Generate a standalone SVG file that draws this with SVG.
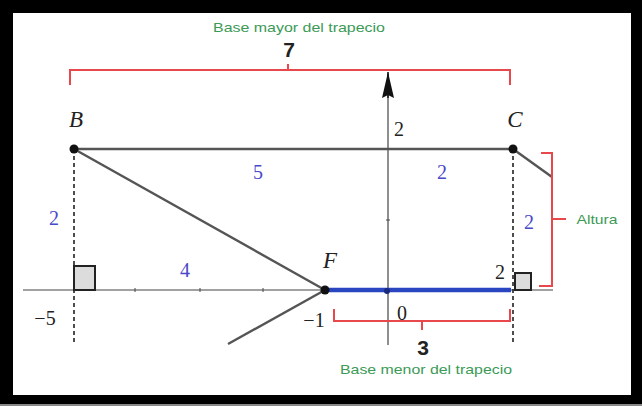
<svg xmlns="http://www.w3.org/2000/svg" width="642" height="406" viewBox="0 0 642 406">
<defs>
<style>
.num{font-family:"Liberation Serif","DejaVu Serif",serif;font-size:20px;fill:#222;text-anchor:middle}
.blue{font-family:"Liberation Serif","DejaVu Serif",serif;font-size:20px;fill:#4848c8;text-anchor:middle}
.pt{font-family:"Liberation Serif","DejaVu Serif",serif;font-style:italic;font-size:23px;fill:#222;text-anchor:middle}
.green{font-family:"Liberation Sans","Open Sans",sans-serif;font-size:13.5px;fill:#3b9a56;text-anchor:middle}
.big{font-family:"Liberation Sans","DejaVu Sans",sans-serif;font-size:21px;font-weight:bold;fill:#222;text-anchor:middle}
.red{fill:none;stroke:#e8474b;stroke-width:2}
.dash{stroke:#222;stroke-width:1.6;stroke-dasharray:4 3;fill:none}
.seg{stroke:#555;stroke-width:2.4;fill:none}
.axis{stroke:#444;stroke-width:1.2;fill:none}
.sq{fill:#dcdcdc;stroke:#222;stroke-width:2}
</style>
</defs>
<rect x="0" y="0" width="642" height="406" fill="#fff"/>
<g id="connectors">
<line class="axis" x1="23" y1="290" x2="553" y2="290"/>
<line class="axis" x1="388" y1="345" x2="388" y2="74"/>
<path d="M388 98 L388 72" stroke="#111" stroke-width="1.5"/>
<path d="M388 72 L394 98 L388 95 L382 98 Z" fill="#111"/>
<g stroke="#444" stroke-width="1">
<line x1="135" y1="288" x2="135" y2="292"/>
<line x1="200" y1="288" x2="200" y2="292"/>
<line x1="263" y1="288" x2="263" y2="292"/>
<line x1="452" y1="288" x2="452" y2="292"/>
<line x1="386" y1="220" x2="390" y2="220"/>
</g>
<line class="dash" x1="74" y1="149" x2="74" y2="342"/>
<line class="dash" x1="513" y1="149" x2="513" y2="344"/>
<line class="seg" x1="74" y1="149" x2="513" y2="149" stroke="#666"/>
<line class="seg" x1="74" y1="149" x2="325" y2="290"/>
<line class="seg" x1="325" y1="290" x2="228" y2="344"/>
<line class="seg" x1="513" y1="149" x2="552" y2="177"/>
<line x1="325" y1="290" x2="511" y2="290" stroke="#2a45c0" stroke-width="4.5"/>
<circle cx="387" cy="291" r="3" fill="#1a2a80"/>
<rect class="sq" x="74" y="266" width="21" height="24"/>
<rect class="sq" x="515" y="273" width="16" height="17"/>
<path class="red" d="M70 85 L70 70 L510 70 L510 85 M288 70 L288 64"/>
<path class="red" d="M541 153 L552 153 L552 286 L539 286 M552 219 L566 219"/>
<path class="red" d="M334 309 L334 321 L510 321 L510 309 M422 321 L422 330"/>
</g>
<g id="B"><circle cx="74" cy="149" r="4.5" fill="#111"/><text class="pt" x="76" y="127">B</text></g>
<g id="C"><circle cx="513" cy="149" r="4.5" fill="#111"/><text class="pt" x="515" y="127">C</text></g>
<g id="F"><circle cx="325" cy="290" r="4.5" fill="#111"/><text class="pt" x="330" y="268">F</text></g>
<g id="labels">
<text class="num" x="399" y="136">2</text>
<text class="num" x="500" y="279">2</text>
<text class="num" x="45" y="325">−5</text>
<text class="num" x="314" y="327">−1</text>
<text class="num" x="402" y="320">0</text>
<text class="blue" x="258" y="179">5</text>
<text class="blue" x="442" y="179">2</text>
<text class="blue" x="54" y="225">2</text>
<text class="blue" x="185" y="277">4</text>
<text class="blue" x="529" y="229">2</text>
<text class="green" x="299" y="32" textLength="172" lengthAdjust="spacingAndGlyphs">Base mayor del trapecio</text>
<text class="big" x="289" y="57">7</text>
<text class="green" x="597" y="224" textLength="41" lengthAdjust="spacingAndGlyphs">Altura</text>
<text class="big" x="423" y="355">3</text>
<text class="green" x="426" y="374" textLength="172" lengthAdjust="spacingAndGlyphs">Base menor del trapecio</text>
</g>
<path d="M0 0 H642 V406 H0 Z M13 13 V395 H631 V13 Z" fill="#000" fill-rule="evenodd"/>
<line x1="0" y1="405" x2="642" y2="405" stroke="#888" stroke-width="2"/>
</svg>
